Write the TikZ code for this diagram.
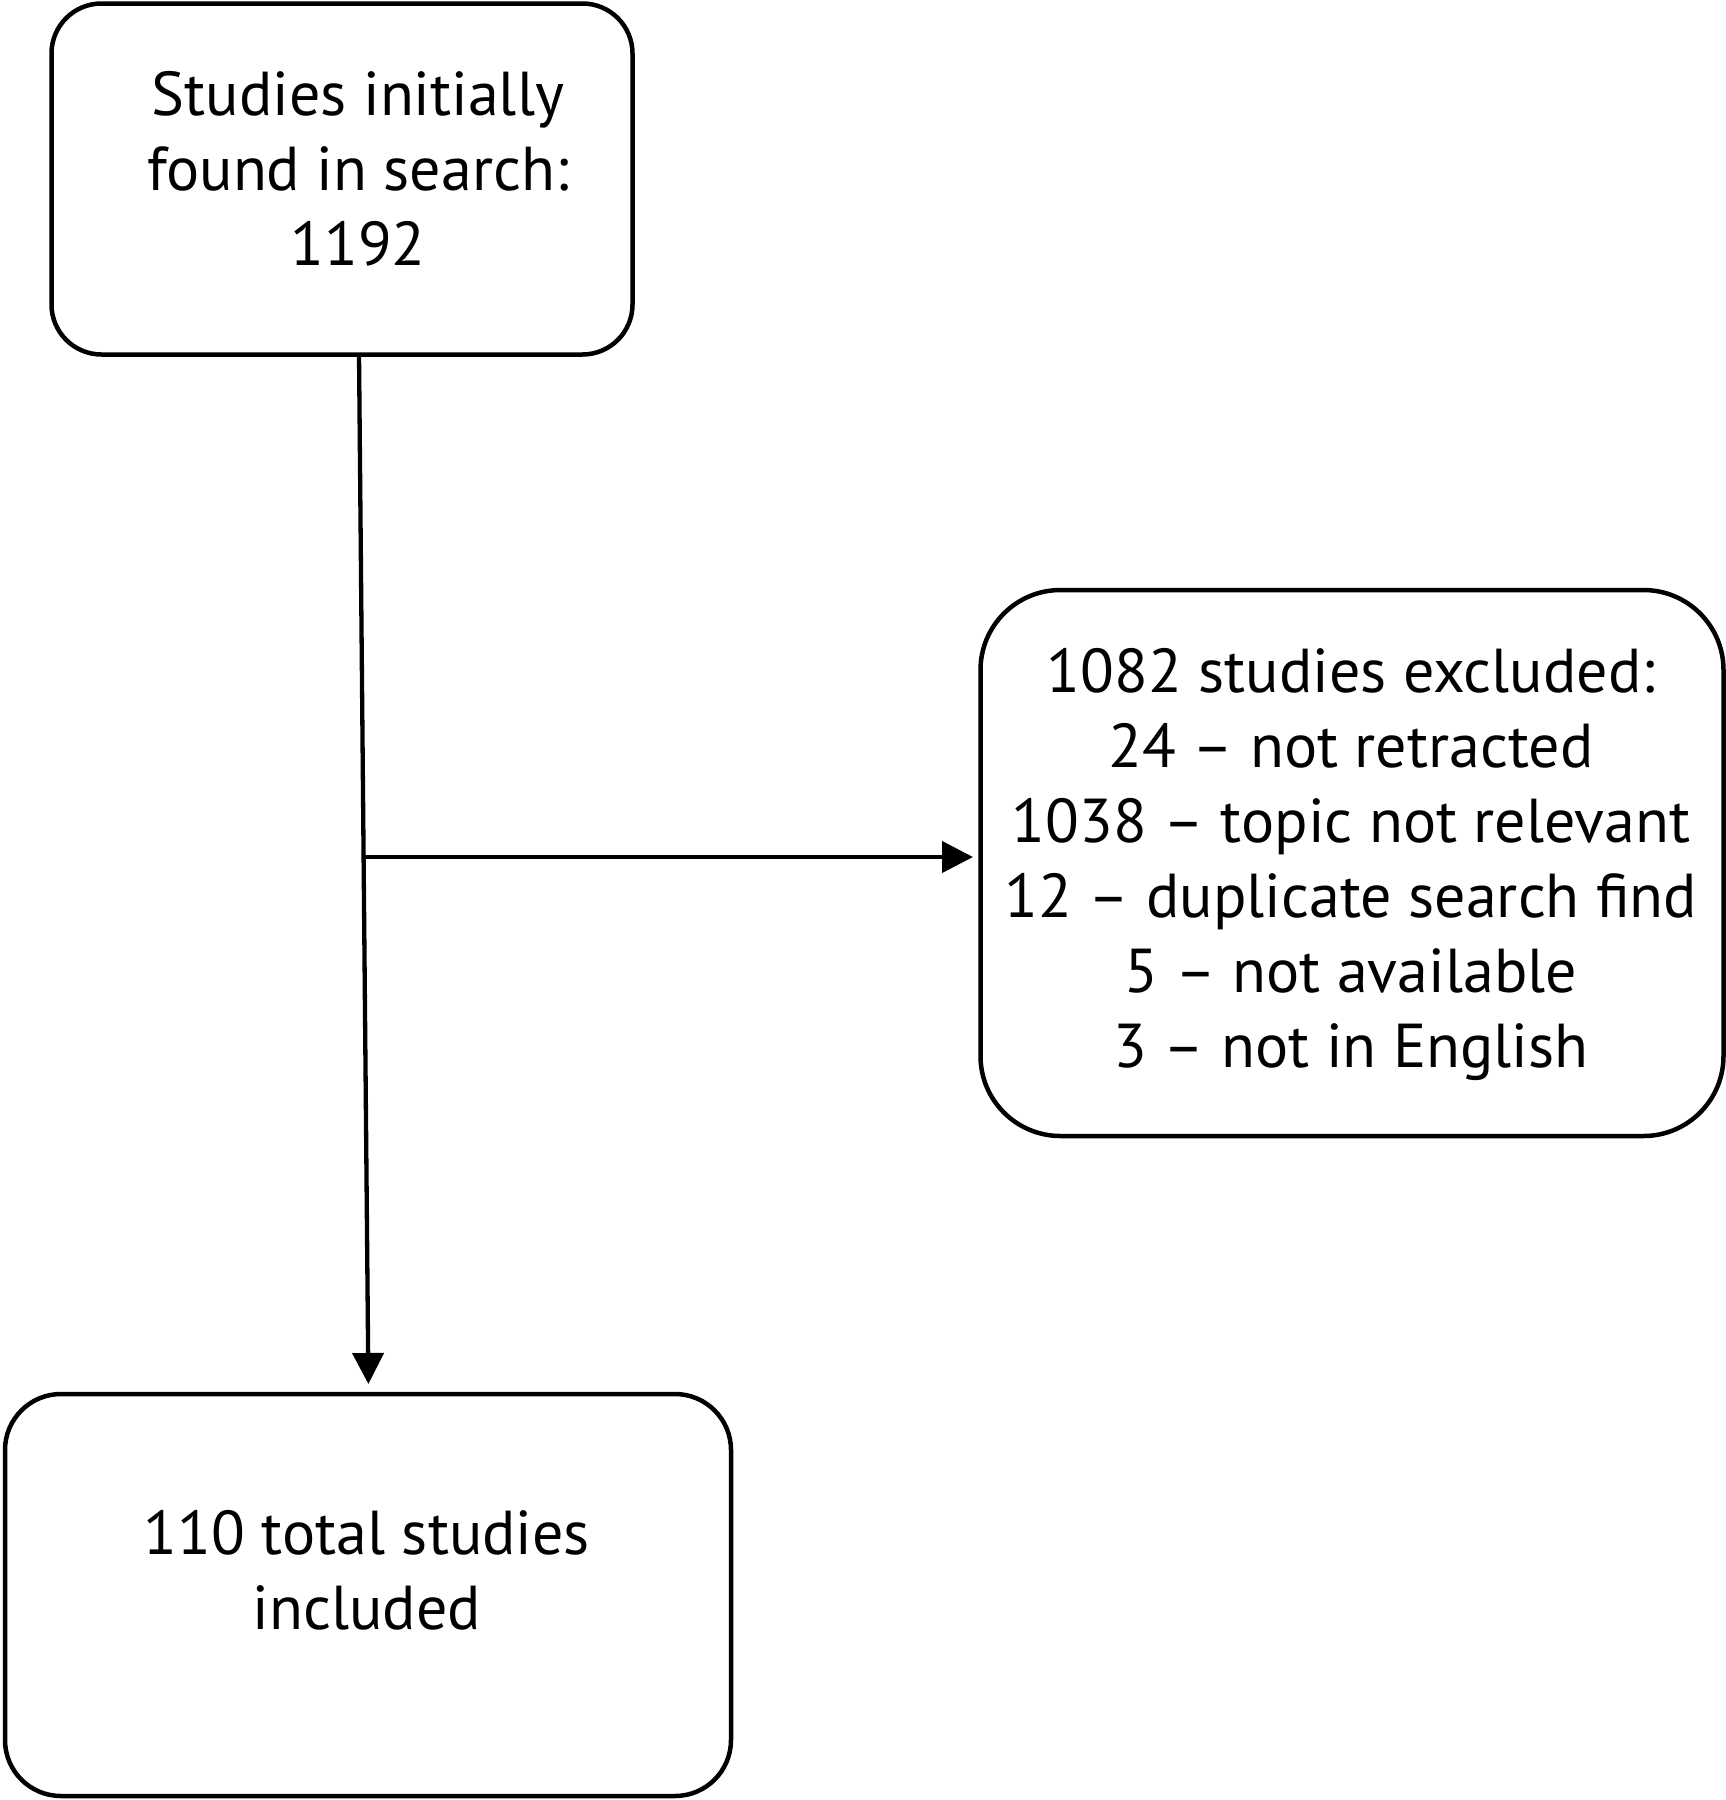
\documentclass[tikz,border=0pt]{standalone}
\usepackage{fontspec}
\setmainfont{PT Sans}
\usetikzlibrary{arrows.meta}
\begin{document}
\begin{tikzpicture}[x=1pt,y=-1pt,
  box/.style={draw, line width=4.5pt, inner sep=0pt},
  txt/.style={align=center, inner sep=0pt, font=\fontsize{62}{75}\selectfont},
  conn/.style={line width=4.3pt, -{Triangle[length=31pt,width=31pt]}}]
\useasboundingbox (0,0) rectangle (1726,1800);
% boxes
\node[box, rounded corners=50pt, minimum width=581pt, minimum height=351pt] (a) at (342,179) {};
\node[box, rounded corners=80pt, minimum width=743pt, minimum height=546pt] (b) at (1352,863) {};
\node[box, rounded corners=56pt, minimum width=726pt, minimum height=402pt] (c) at (368,1595) {};
% texts
\node[txt] (at) at (358,169) {Studies initially\\found in search:\\1192};
\node[txt] (bt) at (1351,864) {1082 studies excluded:\\24 -- not retracted\\1038 -- topic not relevant\\12 -- duplicate search find\\5 -- not available\\3 -- not in English};
\node[txt] (ct) at (367,1570) {110 total studies\\included};
% connectors
\coordinate (v1) at (359,353);
\coordinate (v2) at (368.4,1384);
\coordinate (h1) at (363.8,857);
\coordinate (h2) at (973,857);
\draw[conn] (v1) -- (v2);
\draw[conn] (h1) -- (h2);
\end{tikzpicture}
\end{document}
